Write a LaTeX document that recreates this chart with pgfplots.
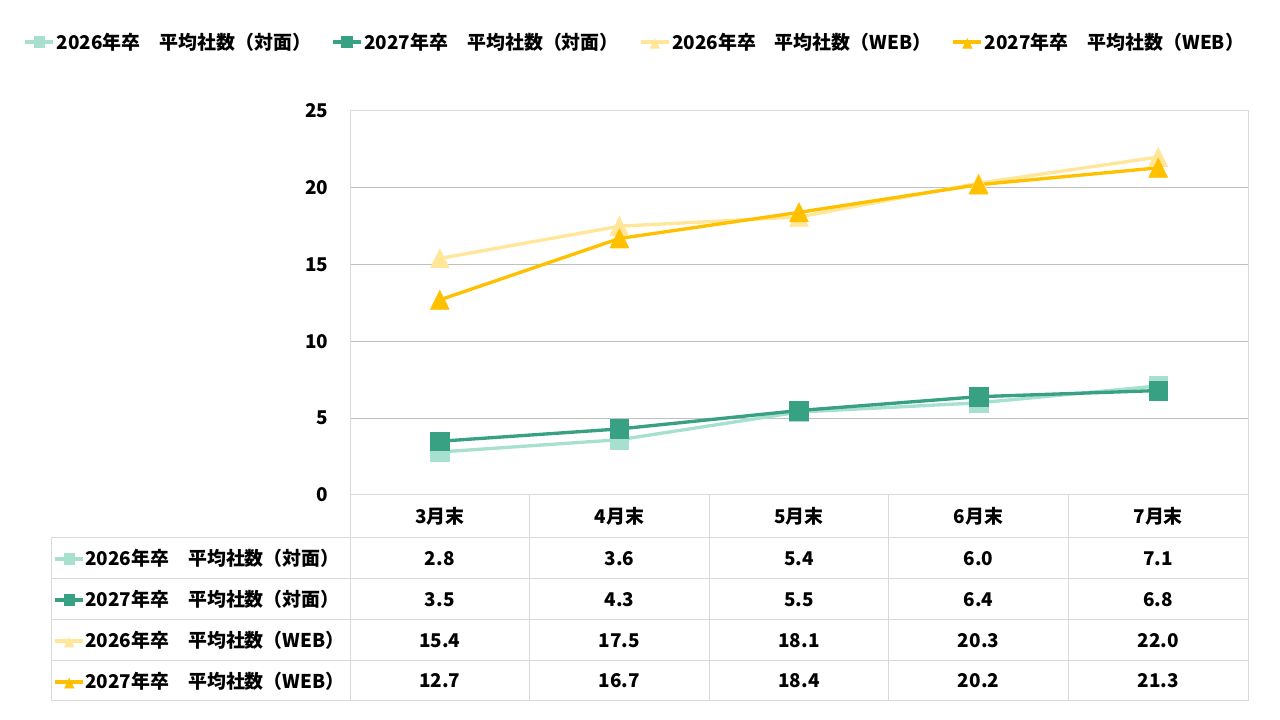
\documentclass[border=0pt]{standalone}
\usepackage{fontspec}
\setmainfont{Noto Sans CJK JP}
\usepackage{pgfplots}
\pgfplotsset{compat=1.18}
\definecolor{mint}{HTML}{A8E0D0}
\definecolor{cteal}{HTML}{38A083}
\definecolor{lgold}{HTML}{FFE699}
\definecolor{cgold}{HTML}{FFC000}
\definecolor{gridc}{HTML}{C0C0C0}
\definecolor{bord}{HTML}{D9D9D9}
\newcommand\tf{\fontsize{14.2pt}{17pt}\selectfont\bfseries}
\pgfplotsset{
  legend image code/.code={
    \draw[#1, mark=none, line width=3pt] (0pt,0pt) -- (21pt,0pt);
    \draw[#1, mark size=4pt] plot coordinates {(10.5pt,0pt)};
  },
  sq/.style={mark=square*, mark size=7pt, mark options={solid, line width=0.5pt}},
  tri/.style={mark=triangle*, mark size=8.1pt, mark options={solid, line width=0.5pt, yscale=1.17, yshift=-2pt}},
}
\begin{document}
\begin{tikzpicture}
\path[use as bounding box] (0,0) rectangle (960pt,540pt);
\begin{axis}[
  at={(262.5pt,168.75pt)}, anchor=south west,
  scale only axis, width=673.5pt, height=288pt,
  xmin=0.5, xmax=5.5, ymin=0, ymax=25,
  xtick={1,...,5}, xticklabels={3月末,4月末,5月末,6月末,7月末},
  ytick={0,5,...,25},
  major tick length=0pt,
  ymajorgrids, grid style={draw=gridc, line width=0.75pt},
  axis line style={draw=bord, line width=0.75pt},
  ticklabel style={font=\tf},
  /pgf/number format/assume math mode=true,
  yticklabel style={anchor=east, xshift=-16pt, inner sep=0pt},
  xticklabel style={anchor=center, yshift=-16.1pt, inner sep=0pt},
  clip=false,
  legend columns=4,
  legend style={at={(-0.3641,1.1797)}, anchor=west, draw=none, fill=none,
    inner sep=0pt, font=\tf,
    /tikz/every even column/.append style={column sep=14pt},
    nodes={inner xsep=1pt}},
]
\addplot[color=mint, line width=2.5pt, sq] coordinates {(1,2.8)(2,3.6)(3,5.4)(4,6.0)(5,7.1)};
\addlegendentry{2026年卒　平均社数（対面）}
\addplot[color=cteal, line width=2.5pt, sq] coordinates {(1,3.5)(2,4.3)(3,5.5)(4,6.4)(5,6.8)};
\addlegendentry{2027年卒　平均社数（対面）}
\addplot[color=lgold, line width=2.5pt, tri] coordinates {(1,15.4)(2,17.5)(3,18.1)(4,20.3)(5,22.0)};
\addlegendentry{2026年卒　平均社数（WEB）}
\addplot[color=cgold, line width=2.5pt, tri] coordinates {(1,12.7)(2,16.7)(3,18.4)(4,20.2)(5,21.3)};
\addlegendentry{2027年卒　平均社数（WEB）}
\end{axis}

\begin{axis}[
  hide axis, scale only axis, width=1pt, height=1pt,
  at={(39.75pt,136.5pt)}, anchor=north west,
  xmin=0, xmax=1, ymin=0, ymax=1,
  legend cell align=left,
  legend style={at={(0,1)}, anchor=north west, draw=none, fill=none,
    inner sep=0pt, row sep=0pt, font=\tf,
    nodes={inner xsep=0pt, inner ysep=0pt, text height=20.5pt, text depth=10.25pt}},
]
\addlegendimage{color=mint, line width=2.5pt, sq}
\addlegendentry{2026年卒　平均社数（対面）}
\addlegendimage{color=cteal, line width=2.5pt, sq}
\addlegendentry{2027年卒　平均社数（対面）}
\addlegendimage{color=lgold, line width=2.5pt, tri}
\addlegendentry{2026年卒　平均社数（WEB）}
\addlegendimage{color=cgold, line width=2.5pt, tri}
\addlegendentry{2027年卒　平均社数（WEB）}
\end{axis}

\begin{scope}[x=0.75pt, y=-0.75pt, yshift=540pt]
  \draw[bord, line width=0.75pt]
    (51,538) -- (1248,538)
    (51,579) -- (1248,579)
    (51,620) -- (1248,620)
    (51,661) -- (1248,661)
    (51,701) -- (1248,701)
    (51,538) -- (51,701)
    (350,495) -- (350,701)
    (529.6,495) -- (529.6,701)
    (709.2,495) -- (709.2,701)
    (888.8,495) -- (888.8,701)
    (1068.4,495) -- (1068.4,701)
    (1248,495) -- (1248,701);
  \foreach \v [count=\i] in {2.8,3.6,5.4,6.0,7.1}
    \node[font=\tf] at ({350+179.6*(\i-0.5)},558.5) {\v};
  \foreach \v [count=\i] in {3.5,4.3,5.5,6.4,6.8}
    \node[font=\tf] at ({350+179.6*(\i-0.5)},599.5) {\v};
  \foreach \v [count=\i] in {15.4,17.5,18.1,20.3,22.0}
    \node[font=\tf] at ({350+179.6*(\i-0.5)},640.5) {\v};
  \foreach \v [count=\i] in {12.7,16.7,18.4,20.2,21.3}
    \node[font=\tf] at ({350+179.6*(\i-0.5)},681) {\v};
\end{scope}
\end{tikzpicture}
\end{document}
